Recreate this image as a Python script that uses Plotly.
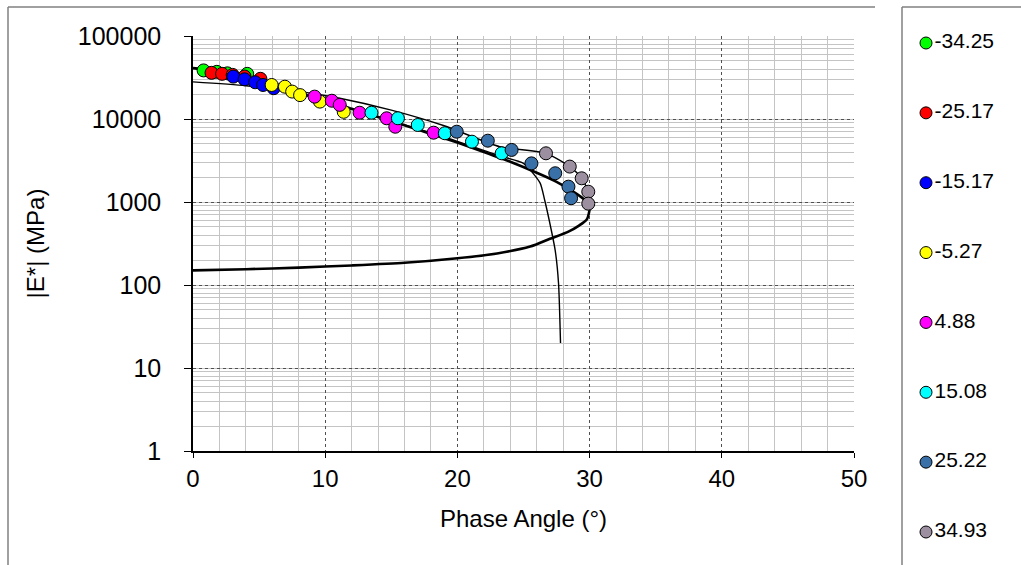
import plotly.graph_objects as go

# Measured |E*| vs phase angle, one series per test temperature (°C)
temps = ["-34.25", "-25.17", "-15.17", "-5.27", "4.88", "15.08", "25.22", "34.93"]
colors = ["#00FF00", "#FF0000", "#0000FF", "#FFFF00", "#FF00FF", "#00FFFF", "#3A70A8", "#9C8FA0"]

phase = [
    [0.8, 1.8, 2.6, 4.1],
    [1.4, 2.2, 3.0, 3.9, 5.1],
    [3.05, 3.9, 4.7, 5.3, 6.1],
    [5.95, 6.95, 7.5, 8.1, 9.6, 11.4],
    [9.2, 10.5, 11.1, 12.6, 14.65, 15.3, 18.2],
    [13.5, 15.5, 17.0, 19.05, 21.1, 23.35],
    [19.95, 22.3, 24.1, 25.6, 27.4, 28.4, 28.6],
    [26.7, 28.5, 29.4, 29.9, 29.9],
]
modulus = [
    [38500, 37000, 35500, 35000],
    [36000, 35000, 34000, 32500, 30500],
    [32400, 30100, 27700, 25700, 23500],
    [25700, 24500, 21400, 19400, 16200, 12200],
    [18600, 16600, 14800, 11900, 10200, 8070, 6840],
    [11900, 10200, 8470, 6730, 5330, 3860],
    [7030, 5480, 4240, 2920, 2220, 1530, 1110],
    [3860, 2670, 1930, 1330, 955],
]

# Model curve with a low-modulus asymptote (returns to 0° at E0)
model_a_phase = [0, 2, 4, 6, 8, 10, 12, 14, 16, 18, 20, 22, 24, 26, 27.5, 28.7, 29.5, 30,
                 29.8, 29.2, 28.4, 27, 25.5, 23, 20, 16, 12, 8, 4, 0]
model_a_mod = [41000, 37500, 32500, 25500, 20500, 16800, 13300, 10600, 8400, 6600, 5200, 4000,
               3050, 2250, 1750, 1350, 1100, 870, 620, 520, 440, 360, 290, 240, 210, 185, 172,
               162, 155, 150]

# Model curve without a low-modulus asymptote
model_b_phase = [0, 4, 8, 11.1, 15, 19, 23.2, 25, 26.25, 26.6, 27.1, 27.4, 27.65, 27.8]
model_b_mod = [41000, 31500, 20500, 14500, 9500, 6100, 3600, 2920, 1700, 1057, 460, 260, 105, 20]

# Second fit, flatter at high modulus
model_c_phase = [0, 4, 8, 11.1, 15, 19, 23.2, 26.7, 28.5, 29.4, 29.9, 30.0]
model_c_mod = [28000, 25200, 21500, 17800, 12800, 8300, 4640, 3860, 2670, 1930, 1330, 950]

W, H = 1021, 565
L, R, T, B = 193, 854, 36, 451


def fx(p):
    return p / W


def fy(p):
    return 1 - p / H


fig = go.Figure()

fig.add_trace(go.Scatter(x=model_a_phase, y=model_a_mod, mode="lines",
                         line=dict(color="black", width=2.6, shape="spline", smoothing=0.6),
                         showlegend=False, hoverinfo="skip"))
fig.add_trace(go.Scatter(x=model_b_phase, y=model_b_mod, mode="lines",
                         line=dict(color="black", width=1.4, shape="spline", smoothing=0.6),
                         showlegend=False, hoverinfo="skip"))
fig.add_trace(go.Scatter(x=model_c_phase, y=model_c_mod, mode="lines",
                         line=dict(color="black", width=1.4, shape="spline", smoothing=0.6),
                         showlegend=False, hoverinfo="skip"))

for name, col, xs, ys in zip(temps, colors, phase, modulus):
    fig.add_trace(go.Scatter(x=xs, y=ys, mode="markers", name=name,
                             marker=dict(size=13, color=col, line=dict(color="black", width=1)),
                             showlegend=False))

# Legend column drawn on its own axes
legend_y = list(range(len(temps)))[::-1]
fig.add_trace(go.Scatter(x=[0] * len(temps), y=legend_y, mode="markers+text",
                         text=temps, textposition="middle right",
                         textfont=dict(family="Liberation Sans, Arial", size=21, color="black"),
                         marker=dict(size=12, color=colors, line=dict(color="black", width=1)),
                         xaxis="x2", yaxis="y2", showlegend=False, hoverinfo="skip",
                         cliponaxis=False))

major_grid = dict(showgrid=True, gridcolor="#505050", gridwidth=1, griddash="dot")
minor_grid = dict(showgrid=True, gridcolor="#c4c4c4", gridwidth=1, griddash="solid")
fig.update_layout(
    width=W, height=H,
    margin=dict(l=0, r=0, t=0, b=0, autoexpand=False),
    paper_bgcolor="white", plot_bgcolor="white",
    font=dict(family="Liberation Sans, Arial", color="black"),
    xaxis=dict(domain=[fx(L), fx(R)], anchor="y", automargin=False,
               range=[0, 50], dtick=10, tick0=0, **major_grid,
               minor=dict(dtick=2, **minor_grid),
               showline=True, linecolor="black", linewidth=1.5,
               ticks="outside", ticklen=5, tickcolor="black",
               tickfont=dict(size=24), zeroline=False,
               title=dict(text="Phase Angle (°)", font=dict(size=24), standoff=20)),
    yaxis=dict(domain=[fy(B), fy(T)], anchor="x", automargin=False,
               type="log", range=[0, 5],
               tickvals=[1, 10, 100, 1000, 10000, 100000],
               ticktext=["1", "10", "100", "1000", "10000", "100000"],
               **major_grid,
               minor=dict(dtick="D1", **minor_grid),
               showline=True, linecolor="black", linewidth=1.5,
               ticks="outside", ticklen=7, tickcolor="black",
               tickfont=dict(size=25), ticklabelstandoff=18, zeroline=False,
               title=dict(text="|E*| (MPa)", font=dict(size=24), standoff=26)),
    xaxis2=dict(domain=[fx(926), fx(1021)], range=[0, 10], visible=False, anchor="y2",
                automargin=False),
    yaxis2=dict(domain=[fy(532), fy(43)], range=[0, 7], visible=False, anchor="x2",
                automargin=False),
    showlegend=False,
    shapes=[
        # outer chart frame (top and left edges)
        dict(type="line", xref="paper", yref="paper", x0=fx(8), x1=fx(875),
             y0=fy(7), y1=fy(7), line=dict(color="#808080", width=1.5)),
        dict(type="line", xref="paper", yref="paper", x0=fx(8), x1=fx(8),
             y0=fy(7), y1=fy(565), line=dict(color="#808080", width=1.5)),
        # legend box
        dict(type="line", xref="paper", yref="paper", x0=fx(902), x1=fx(1021),
             y0=fy(7), y1=fy(7), line=dict(color="#808080", width=1.5)),
        dict(type="line", xref="paper", yref="paper", x0=fx(902), x1=fx(902),
             y0=fy(7), y1=fy(565), line=dict(color="#808080", width=1.5)),
    ],
)

fig.write_html("out.html")
